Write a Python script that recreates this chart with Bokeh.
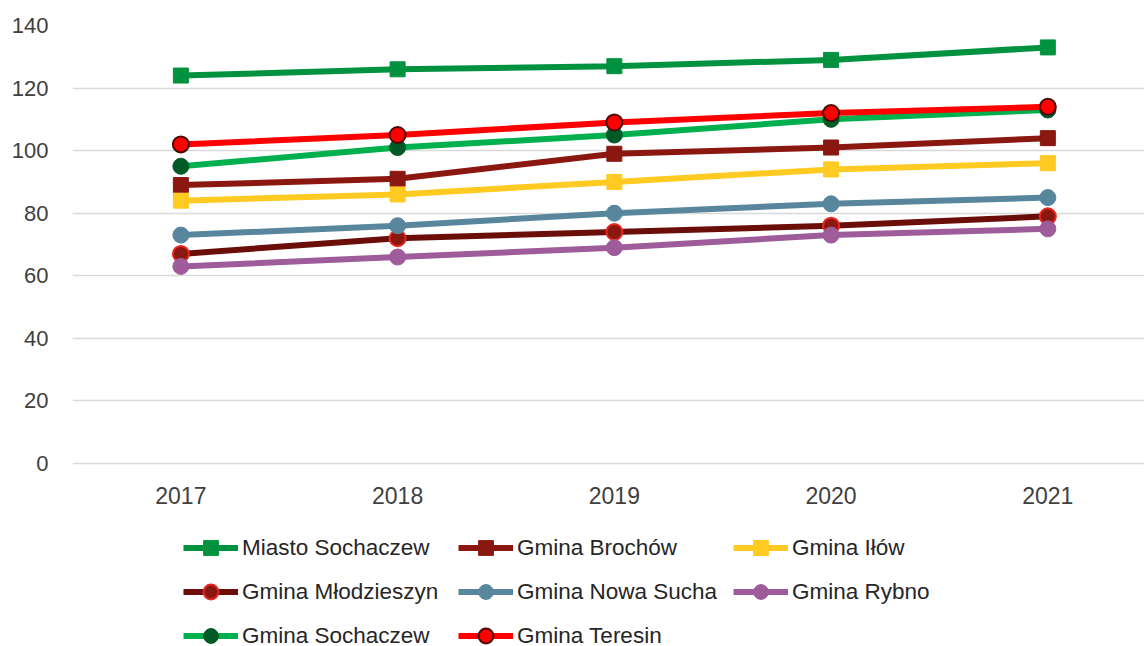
from bokeh.plotting import figure
from bokeh.models import Legend, LegendItem, FixedTicker, Range1d, LinearAxis
from bokeh.embed import file_html
from bokeh.resources import INLINE

years = ["2017", "2018", "2019", "2020", "2021"]
miasto_sochaczew = [124, 126, 127, 129, 133]
gmina_brochow = [89, 91, 99, 101, 104]
gmina_ilow = [84, 86, 90, 94, 96]
gmina_mlodzieszyn = [67, 72, 74, 76, 79]
gmina_nowa_sucha = [73, 76, 80, 83, 85]
gmina_rybno = [63, 66, 69, 73, 75]
gmina_sochaczew = [95, 101, 105, 110, 113]
gmina_teresin = [102, 105, 109, 112, 114]
y_ticks = [0, 20, 40, 60, 80, 100, 120, 140]

series = [
    ("Miasto Sochaczew", miasto_sochaczew, "#00923F", "square", "#00923F", "#00923F"),
    ("Gmina Brochów", gmina_brochow, "#8B1711", "square", "#8B1711", "#8B1711"),
    ("Gmina Iłów", gmina_ilow, "#FFCA22", "square", "#FFCA22", "#FFCA22"),
    ("Gmina Młodzieszyn", gmina_mlodzieszyn, "#6B0E0A", "circle", "#8B1711", "#E8281E"),
    ("Gmina Nowa Sucha", gmina_nowa_sucha, "#58869C", "circle", "#58869C", "#58869C"),
    ("Gmina Rybno", gmina_rybno, "#9E5C9A", "circle", "#9E5C9A", "#9E5C9A"),
    ("Gmina Sochaczew", gmina_sochaczew, "#00B04F", "circle", "#005A26", "#005A26"),
    ("Gmina Teresin", gmina_teresin, "#FF0000", "circle", "#FF0000", "#4A0A05"),
]

xs = [i + 1 for i in range(len(years))]

p = figure(width=1144, height=646, output_backend="svg", toolbar_location=None,
           x_range=Range1d(0.5, 5.446), y_range=Range1d(-58.49, 140),
           x_axis_location=None,
           min_border_left=72, min_border_top=25, min_border_right=0, min_border_bottom=0)
p.outline_line_color = None
p.background_fill_color = "white"
p.border_fill_color = "white"

items = []
for name, vals, lc, mk, fc, oc in series:
    r1 = p.line(xs, vals, line_color=lc, line_width=6)
    r2 = p.scatter(xs, vals, marker=mk, size=15 if mk == "square" else 16,
                   fill_color=fc, line_color=oc, line_width=2 if oc != fc else 1)
    items.append(LegendItem(label=name, renderers=[r1, r2]))

# legend fills column by column: reorder so rows read like the reference
order = [0, 3, 6, 1, 4, 7, 2, 5]
legend_items = [items[i] for i in order]

p.xgrid.grid_line_color = None
p.ygrid.grid_line_color = "#D9D9D9"
p.ygrid.grid_line_width = 1.5
p.ygrid.ticker = FixedTicker(ticks=y_ticks)

xaxis = LinearAxis(fixed_location=0, ticker=FixedTicker(ticks=xs),
                   major_label_overrides={x: y for x, y in zip(xs, years)})
p.add_layout(xaxis, "below")

for ax in (xaxis, p.yaxis[0]):
    ax.axis_line_color = None
    ax.major_tick_line_color = None
    ax.minor_tick_line_color = None
    ax.major_tick_out = 0
    ax.major_tick_in = 0
    ax.major_label_text_font = "Liberation Sans"
    ax.major_label_text_font_size = "22px"
    ax.major_label_text_color = "#404040"
xaxis.major_label_text_font_size = "23px"
p.yaxis.ticker = FixedTicker(ticks=y_ticks)
p.yaxis.major_label_standoff = 24
xaxis.major_label_standoff = 23

legend = Legend(items=legend_items, ncols=3, location=(111, -8),
                glyph_width=55, glyph_height=37, label_height=26, label_width=209,
                label_standoff=4, spacing=7, padding=0, margin=0,
                border_line_color=None, background_fill_alpha=0,
                label_text_font="Liberation Sans", label_text_font_size="22.5px",
                label_text_color="#262626")
p.add_layout(legend, "center")

open("out.html", "w").write(file_html(p, INLINE))
